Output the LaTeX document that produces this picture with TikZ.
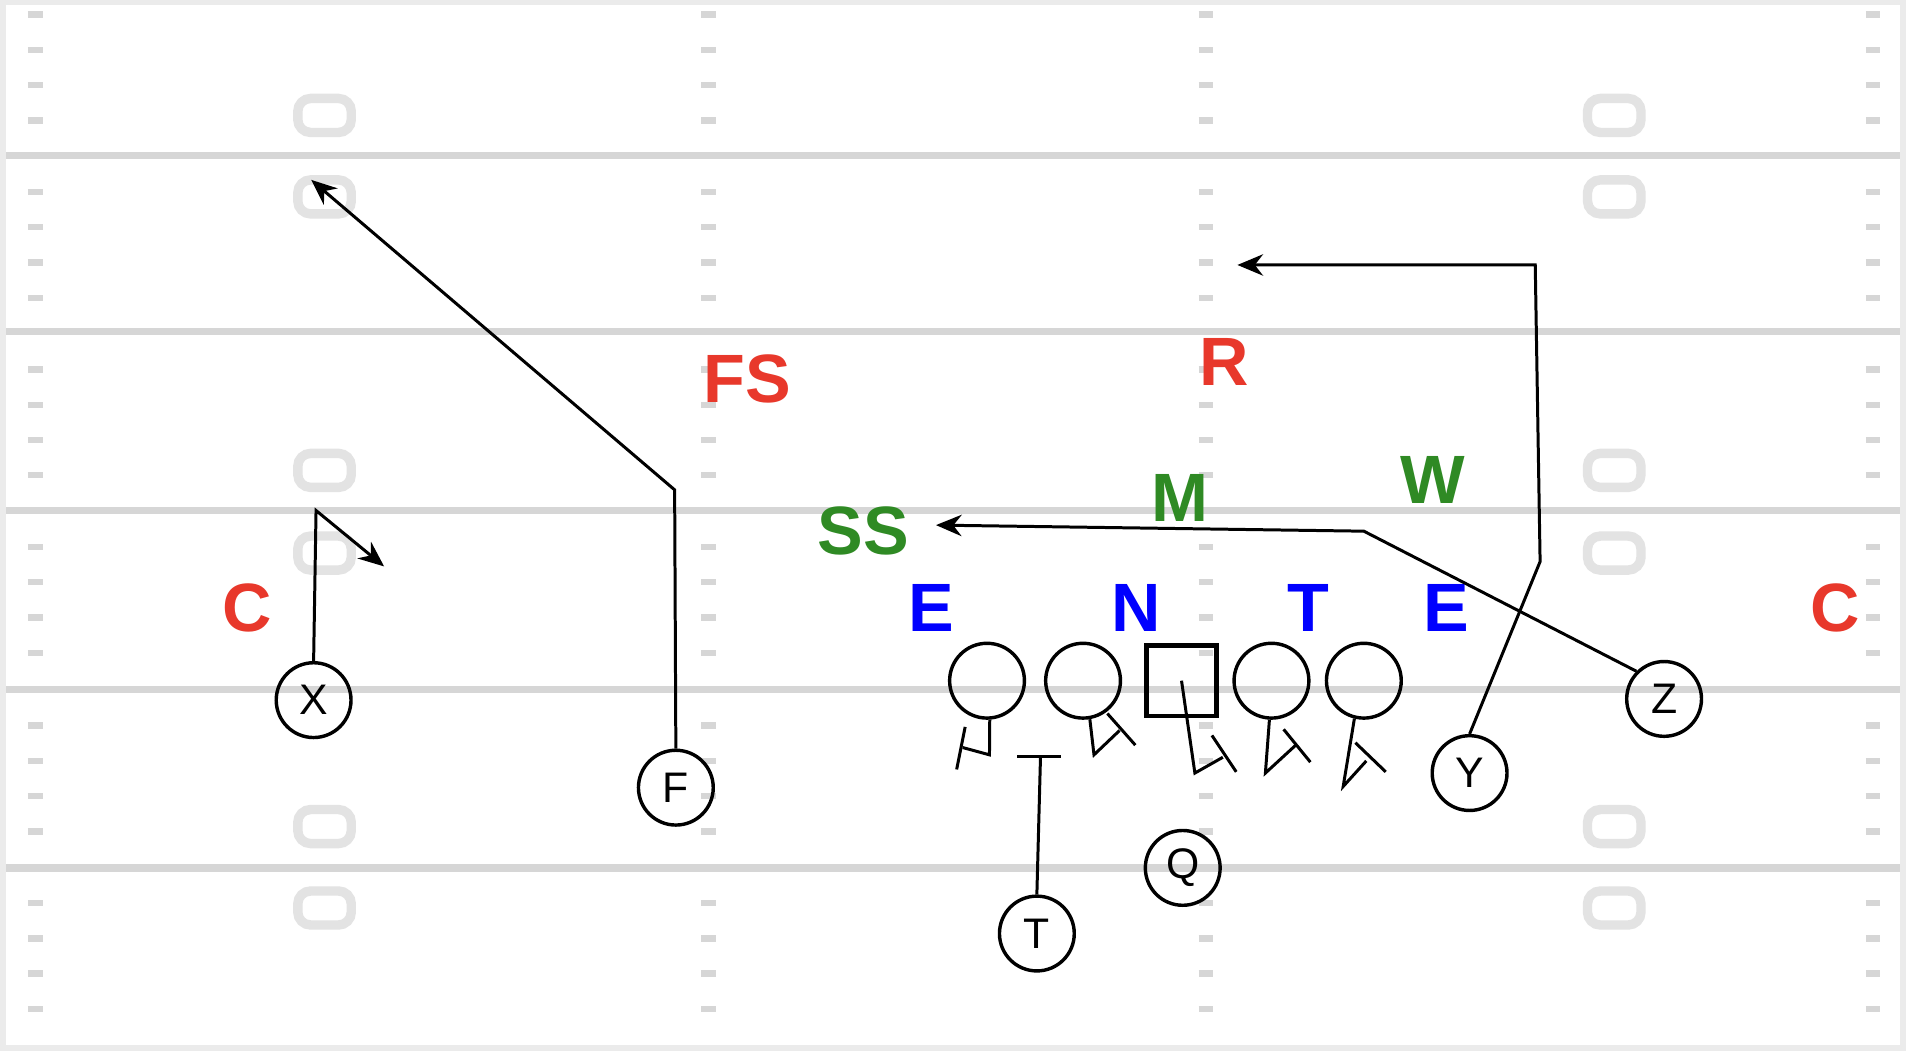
\documentclass[tikz,border=0pt]{standalone}
\usepackage{fontspec}
\setmainfont{Liberation Sans}
\usetikzlibrary{arrows.meta}
\definecolor{fieldgray}{HTML}{EBEBEB}
\definecolor{linegray}{HTML}{D6D6D6}
\definecolor{numgray}{HTML}{E3E3E3}
\definecolor{dred}{HTML}{E8382B}
\definecolor{lbgreen}{HTML}{2F8A24}
\tikzset{
    player/.style={draw, circle, line width=0.8pt, minimum size=17.5pt, inner sep=0pt, font=\fontsize{10}{10}\selectfont},
    centre/.style={draw, rectangle, line width=1.1pt, minimum size=16.5pt, inner sep=0pt},
    dback/.style={text=dred, font=\fontsize{16}{16}\selectfont\bfseries},
    lbacker/.style={text=lbgreen, font=\fontsize{16}{16}\selectfont\bfseries},
    dline/.style={text=blue, font=\fontsize{16}{16}\selectfont\bfseries},
    route/.style={line width=0.7pt, -{Stealth[length=6pt,width=5pt]}},
    block/.style={line width=0.7pt},
    yardline/.style={linegray, line width=1.7pt},
    hash/.style={linegray, line width=1.5pt},
    numbox/.style={numgray, line width=2.2pt, rounded corners=3pt} }
\begin{document}
\begin{tikzpicture}[x=0.01cm, y=-0.01cm]
    \useasboundingbox (0,0) rectangle (1568,865);
    % ---- field
    \fill[fieldgray] (0,0) rectangle (1568,865);
    \fill[white] (5,4) rectangle (1563,860);
    \foreach \y in {128,273,420,567,714}
        \draw[yardline] (5,\y) -- (1563,\y);
    \foreach \x in {29,583,992,1541}
        \foreach \y in {12,41,70,99,158,187,216,245,304,333,362,391,450,479,508,537,597,626,655,684,743,772,801,830}
            \draw[hash] (\x-6,\y) -- (\x+6,\y);
    \foreach \x in {267,1328}
        \foreach \y in {95,162,387,455,680,747}
            \draw[numbox] (\x-22,\y-14) rectangle (\x+22,\y+14);
    % ---- offense
    \node[player] (X) at (258,576) {X};
    \node[player] (F) at (556,648) {F};
    \node[player] (L1) at (812,560) {};
    \node[player] (L2) at (891,560) {};
    \node[centre] (Ce) at (972,560) {};
    \node[player] (L4) at (1046,560) {};
    \node[player] (L5) at (1122,560) {};
    \node[player] (Y) at (1209,636) {Y};
    \node[player] (Z) at (1369,575) {Z};
    \node[player] (Q) at (973,714) {Q};
    \node[player] (T) at (853,768) {T};
    % ---- defense
    \node[dback] (C1) at (203,500) {C};
    \node[dback] (C2) at (1510,500) {C};
    \node[dback] (FS) at (615,312) {FS};
    \node[dback] (R) at (1007,298) {R};
    \node[lbacker] (SS) at (710,437) {SS};
    \node[lbacker] (M) at (971,410) {M};
    \node[lbacker] (W) at (1179,395) {W};
    \node[dline] (E1) at (766,500) {E};
    \node[dline] (N) at (935,500) {N};
    \node[dline] (DT) at (1076,500) {T};
    \node[dline] (E2) at (1190,500) {E};
    % ---- routes
    \coordinate (xa) at (260,420);
    \coordinate (xb) at (316,466);
    \coordinate (fa) at (555,403);
    \coordinate (fb) at (256,148);
    \coordinate (za) at (1122,437);
    \coordinate (zb) at (770,432);
    \coordinate (ya) at (1267,462);
    \coordinate (yb) at (1263,218);
    \coordinate (yc) at (1018,218);
    \draw[route] (X.north) -- (xa) -- (xb);
    \draw[route] (F.north) -- (fa) -- (fb);
    \draw[route] (Z.north west) -- (za) -- (zb);
    \draw[route] (Y.north) -- (ya) -- (yb) -- (yc);
    % ---- blocks
    \coordinate (tb) at (856,622);
    \draw[block] (T.north) -- (tb);
    \draw[block] (837,622) -- (873,622);
    \draw[block] (L1.-86) -- (814,621) -- (792,615);
    \draw[block] (794,598) -- (787,633);
    \draw[block] (L2.-80) -- (900,621) -- (921,601);
    \draw[block] (911,587) -- (934,613);
    \draw[block] (Ce.center) -- (983,636) -- (1006,623);
    \draw[block] (997,605) -- (1017,635);
    \draw[block] (L4.-93) -- (1041,636) -- (1066,613);
    \draw[block] (1056,600) -- (1078,627);
    \draw[block] (L5.-104) -- (1105,647) -- (1124,626);
    \draw[block] (1115,611) -- (1140,635);
\end{tikzpicture}
\end{document}
